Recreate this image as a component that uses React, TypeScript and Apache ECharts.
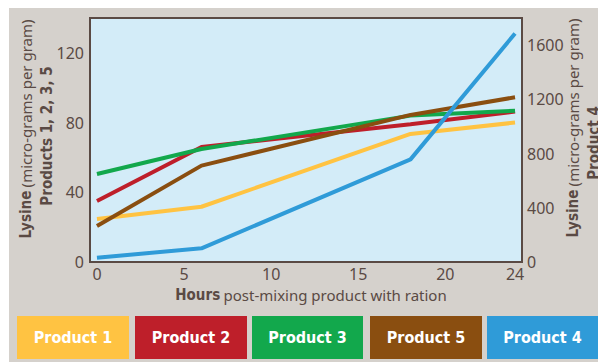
import React, { useEffect, useRef } from "react";
import * as echarts from "echarts";

const hours = [0, 6, 18, 24];
const product1 = [24.7, 31.7, 73.5, 80];
const product2 = [35, 66, 79, 86.3];
const product3 = [50.5, 64.8, 84, 86.8];
const product5 = [20.7, 55.3, 84.4, 94.5];
const product4 = [32, 101, 757, 1686];

const xTicks = [0, 5, 10, 15, 20, 24];
const leftTicks = [0, 40, 80, 120];
const rightTicks = [0, 400, 800, 1200, 1600];

const seriesNames = ["Product 1", "Product 2", "Product 3", "Product 5", "Product 4"];
const seriesColors = ["#FFC342", "#BE1F2A", "#12A84C", "#8A4E10", "#2F9BD8"];

const TEXT = "#5A4A44";
const BOLD_FONT = "'DejaVu Sans Condensed', 'Roboto', sans-serif";
const REG_FONT = "'Noto Sans', 'Open Sans', sans-serif";

export default function App() {
  const ref = useRef<HTMLDivElement>(null);
  useEffect(() => {
    document.body.style.margin = "0";
    const chart = echarts.init(ref.current!, null, { renderer: "svg" });
    const allData = [product1, product2, product3, product5, product4];
    const series = seriesNames.map((name, i) => ({
      name,
      type: "line",
      yAxisIndex: name === "Product 4" ? 1 : 0,
      data: hours.map((h, j) => [h, allData[i][j]]),
      showSymbol: false,
      symbol: "none",
      lineStyle: { color: seriesColors[i], width: 4 },
      itemStyle: { color: seriesColors[i] },
      z: 3 + i,
    }));

    const boxes = [
      [17, 129],
      [135, 247],
      [252, 363],
      [370, 482],
      [487, 598],
    ];
    const legendGraphics: any[] = [];
    seriesNames.forEach((name, i) => {
      const [x0, x1] = boxes[i];
      legendGraphics.push({
        type: "rect",
        shape: { x: x0, y: 316, width: x1 - x0, height: 43 },
        style: { fill: seriesColors[i] },
        z: 5,
      });
      legendGraphics.push({
        type: "text",
        x: (x0 + x1) / 2,
        y: 337.5,
        style: {
          text: name,
          fill: "#ffffff",
          font: `bold 16px ${BOLD_FONT}`,
          align: "center",
          verticalAlign: "middle",
        },
        z: 6,
      });
    });

    const rich = {
      b: { fontFamily: BOLD_FONT, fontWeight: "bold", fontSize: 15, fill: TEXT, color: TEXT },
      r: { fontFamily: REG_FONT, fontSize: 15, fill: TEXT, color: TEXT },
    };

    chart.setOption({
      animation: false,
      backgroundColor: "#ffffff",
      grid: {
        left: 90,
        top: 18,
        right: 76,
        bottom: 100,
        show: true,
        backgroundColor: "#D3ECF8",
        borderColor: "#5A4A44",
        borderWidth: 2,
      },
      xAxis: {
        type: "value",
        min: -0.4,
        max: 24.4,
        axisLine: { show: false },
        axisTick: { show: false },
        splitLine: { show: false },
        axisLabel: {
          customValues: xTicks,
          color: TEXT,
          fontFamily: REG_FONT,
          fontSize: 16,
          margin: 4,
          formatter: (v: number) => String(v),
        },
      },
      yAxis: [
        {
          type: "value",
          min: 0,
          max: 140,
          axisLine: { show: false },
          axisTick: { show: false },
          splitLine: { show: false },
          axisLabel: {
            customValues: leftTicks,
            color: TEXT,
            fontFamily: REG_FONT,
            fontSize: 16,
            margin: 6,
            formatter: (v: number) => String(v),
          },
        },
        {
          type: "value",
          min: 0,
          max: 1800,
          position: "right",
          axisLine: { show: false },
          axisTick: { show: false },
          splitLine: { show: false },
          axisLabel: {
            customValues: rightTicks,
            color: TEXT,
            fontFamily: REG_FONT,
            fontSize: 16,
            margin: 5,
            formatter: (v: number) => String(v),
          },
        },
      ],
      graphic: [
        {
          type: "rect",
          shape: { x: 9, y: 8, width: 589, height: 354 },
          style: { fill: "#D5D1CC" },
          z: -10,
          silent: true,
        },
        {
          type: "text",
          x: 26,
          y: 129,
          rotation: Math.PI / 2,
          style: {
            text: "{b|Lysine} {r|(micro-grams per gram)}",
            rich,
            align: "center",
            verticalAlign: "middle",
          },
        },
        {
          type: "text",
          x: 47,
          y: 136,
          rotation: Math.PI / 2,
          style: {
            text: "{b|Products 1, 2, 3, 5}",
            rich,
            align: "center",
            verticalAlign: "middle",
          },
        },
        {
          type: "text",
          x: 573,
          y: 128,
          rotation: Math.PI / 2,
          style: {
            text: "{b|Lysine} {r|(micro-grams per gram)}",
            rich,
            align: "center",
            verticalAlign: "middle",
          },
        },
        {
          type: "text",
          x: 594,
          y: 143,
          rotation: Math.PI / 2,
          style: {
            text: "{b|Product 4}",
            rich,
            align: "center",
            verticalAlign: "middle",
          },
        },
        {
          type: "text",
          x: 311,
          y: 295,
          style: {
            text: "{b|Hours} {r|post-mixing product with ration}",
            rich,
            align: "center",
            verticalAlign: "middle",
          },
        },
        ...legendGraphics,
      ],
      series,
    });
    return () => chart.dispose();
  }, []);
  return <div ref={ref} style={{ width: 598, height: 362 }} />;
}
